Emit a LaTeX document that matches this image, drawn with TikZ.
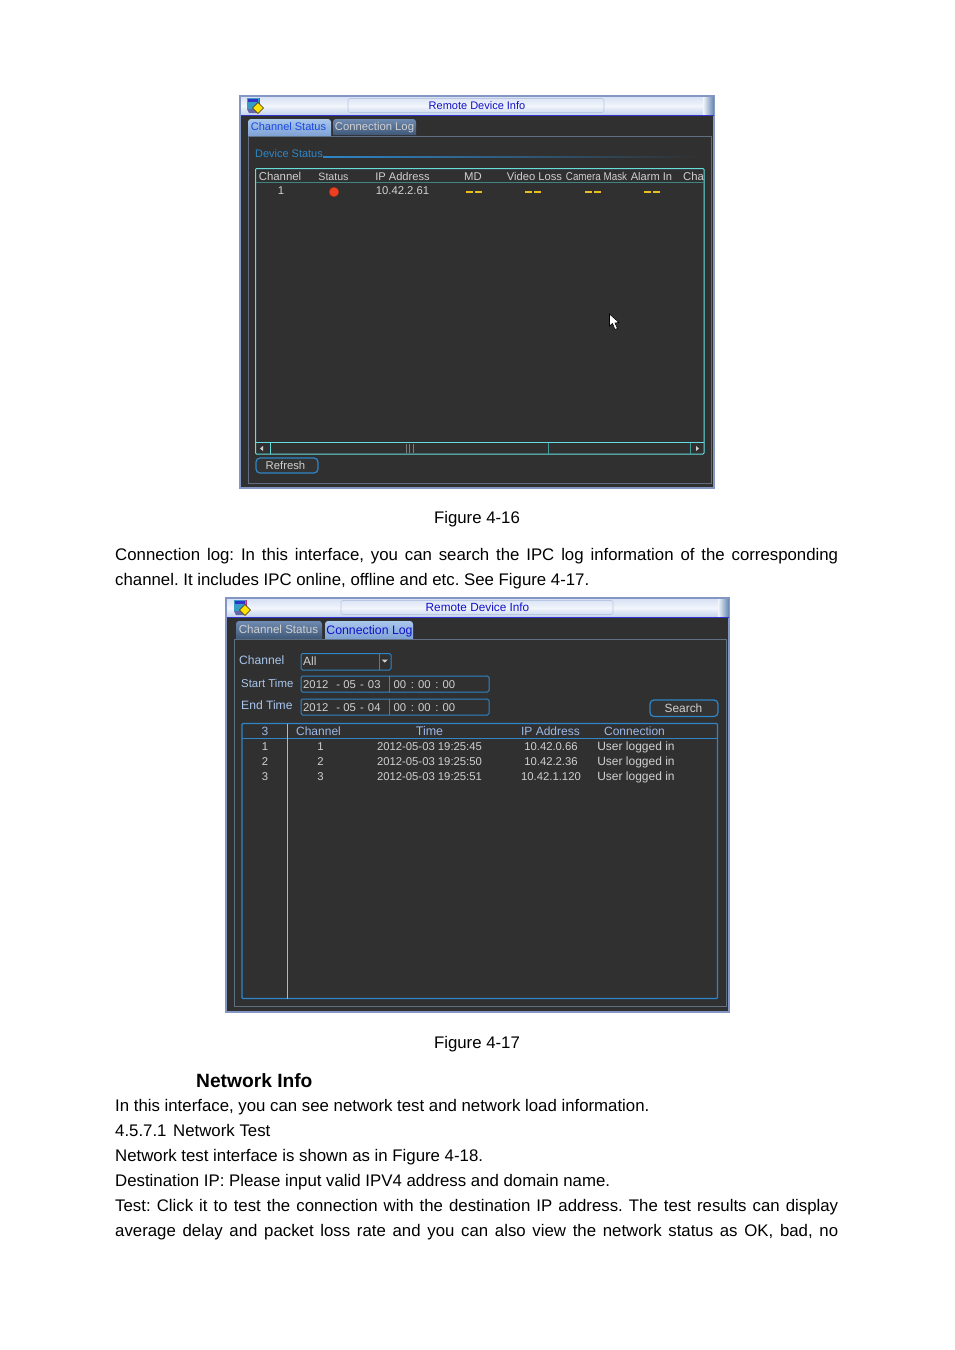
\documentclass[tikz,border=0pt]{standalone}
\usepackage{fontspec}
\usepackage{graphicx}
\setmainfont{Liberation Sans}
\frenchspacing
\usetikzlibrary{positioning}
\definecolor{screenbg}{HTML}{303030}
\definecolor{winframe}{HTML}{8497C4}
\definecolor{barlight}{HTML}{F2F5FB}
\definecolor{bartop}{HTML}{D8E2F4}
\definecolor{barmid}{HTML}{C2D2EC}
\definecolor{barend}{HTML}{5F84AE}
\definecolor{capline}{HTML}{B8C8E2}
\definecolor{tabontop}{HTML}{A9C6EC}
\definecolor{tabonbot}{HTML}{7FA2D4}
\definecolor{tabofftop}{HTML}{6F8AB0}
\definecolor{taboffbot}{HTML}{3F5878}
\definecolor{panelline}{HTML}{5F6E80}
\definecolor{tealline}{HTML}{66DDDD}
\definecolor{blueline}{HTML}{2E86C8}
\definecolor{headtxt}{HTML}{9DB9E8}
\definecolor{celltxt}{HTML}{D0D0D0}
\definecolor{labeltxt}{HTML}{A9C6EE}
\definecolor{titletxt}{HTML}{1010C8}
\definecolor{tabtxt}{HTML}{1848E0}
\definecolor{dashyellow}{HTML}{E8C020}
\definecolor{ledred}{HTML}{EE4020}
\tikzset{
  bodyline/.style={anchor=base west, inner sep=0pt, font=\fontsize{16.8}{20}\selectfont},
  caption/.style={anchor=base, inner sep=0pt, font=\fontsize{16.8}{20}\selectfont},
  heading/.style={anchor=base west, inner sep=0pt, font=\fontsize{19.2}{22}\selectfont\bfseries},
  cell/.style={anchor=base, inner sep=0pt, text=celltxt, font=\fontsize{11.3}{13}\selectfont},
  uihead/.style={cell, text=headtxt, font=\fontsize{12}{14}\selectfont},
  uitext/.style={cell},
  userin/.style={cell, font=\fontsize{12}{14}\selectfont},
  uilabel/.style={cell, anchor=base west, text=labeltxt, font=\fontsize{12.1}{14}\selectfont},
  titletext/.style={cell, text=titletxt},
  titlecap/.style={draw=capline, line width=0.6pt, rounded corners=1.5pt},
  tabactive/.style={top color=tabontop, bottom color=tabonbot},
  tabidle/.style={top color=tabofftop, bottom color=taboffbot},
  inputbox/.style={draw=blueline, line width=1pt, rounded corners=1.5pt},
  pushbutton/.style={draw=blueline, line width=1.2pt, rounded corners=4pt, fill=black!80},
  dashmark/.style={dashyellow, line width=2.3pt},
}
\newcommand{\dashpair}[2]{% yellow "- -" in a cell
  \draw[dashmark] (#1-8,#2) -- (#1-1,#2) (#1+1,#2) -- (#1+8,#2);}
\newcommand{\titlebar}[3]{% gradient bar, left x, right x, top y
  \shade[top color=bartop, bottom color=barmid, middle color=barlight] (#1,#3) rectangle (#2,#3+18);
  \shade[left color=barlight, right color=barend] (#2-11,#3) rectangle (#2,#3+18);
  \draw[blue!60!gray, line width=1pt] (#1,#3+18.5) -- (#2,#3+18.5);}
\newcommand{\winicon}[2]{% small window icon of the title bar
  \fill[black!55!blue!60] (#1,#2+11) -- (#1+12,#2+11) -- (#1+11,#2+15) -- (#1+2,#2+15) -- cycle;
  \fill[blue!30!cyan!55!gray] (#1,#2) rectangle ++(12,11);
  \fill[blue!60!gray] (#1+1,#2+1) rectangle ++(10,3);
  \fill[magenta!70!black] (#1+12,#2) rectangle ++(1,8);
  \fill[yellow!85!orange, draw=black!70!brown, line width=0.6pt]
    (#1+11,#2+4.5) -- ++(5.5,5.5) -- ++(-5.5,5.5) -- ++(-5.5,-5.5) -- cycle;}
\begin{document}
\begin{tikzpicture}[x=1pt,y=-1pt]
  \useasboundingbox (0,0) rectangle (954,1350);
  \fill[white] (0,0) rectangle (954,1350);

  % first screen
  \fill[screenbg] (240,96) rectangle (714,488);
  \draw[winframe, line width=1.4pt] (240,96) rectangle (714,488);
  \titlebar{241}{714}{97}
  \draw[titlecap] (348,98.5) rectangle (604,112.5);
  \winicon{247}{98}
  \node[titletext, font=\fontsize{11}{13}\selectfont] (title1) at (477,109) {Remote Device Info};
  \draw[panelline, line width=1pt] (248,136) rectangle (711,483);
  \path[tabactive] (248,136) [rounded corners=3pt] -- (248,119) -- (331,119) [sharp corners] -- (331,136) -- cycle;
  \path[tabidle] (333,135) [rounded corners=3pt] -- (333,119) -- (416,119) [sharp corners] -- (416,135) -- cycle;
  \node[cell, text=tabtxt, font=\fontsize{11}{13}\selectfont] (tab1a) at (288.5,130) {Channel Status};
  \node[cell] (tab1b) at (374.5,130) {Connection Log};
  \node[anchor=base west, inner sep=0pt, text=blueline, font=\fontsize{10.95}{13}\selectfont] (devstatus) at (255,157) {Device Status};
  \shade[left color=blueline, right color=screenbg] (323,156) rectangle (699,157.5);

  \draw[tealline, line width=1pt, rounded corners=1pt] (255.5,168.5) rectangle (704,454);
  \draw[tealline!60!black, line width=0.6pt] (256,182.5) -- (704,182.5);
  \node[cell, font=\fontsize{11.4}{13}\selectfont] (hchannel) at (280,180) {Channel};
  \node[cell, font=\fontsize{10.6}{13}\selectfont] (hstatus) at (333.5,180) {Status};
  \node[cell, font=\fontsize{11.1}{13}\selectfont] (hip) at (402.5,180) {IP Address};
  \node[cell] (hmd) at (473,180) {MD};
  \node[cell, font=\fontsize{11.2}{13}\selectfont] (hvideo) at (534.5,180) {Video Loss};
  \node[cell] (hcamera) at (596.5,180) {\scalebox{0.87}[1]{Camera Mask}};
  \node[cell, font=\fontsize{11.1}{13}\selectfont] (halarm) at (651.5,180) {Alarm In};
  \node[cell] (hcha) at (693.5,180) {Cha};
  \node[uitext] (c1) at (281,194) {1};
  \fill[ledred, draw=ledred!70!black, line width=0.4pt] (334,192) circle (4.8);
  \node[uitext] (ip1) at (402.5,194) {10.42.2.61};
  \dashpair{474}{192}
  \dashpair{533}{192}
  \dashpair{593}{192}
  \dashpair{652}{192}

  % cursor
  \fill[white, draw=black, line width=0.6pt] (609.5,314) -- (609.5,326) -- (612.5,323.5) -- (615,329.5) -- (617.5,328.5) -- (615,323) -- (619,322.5) -- cycle;

  % scrollbar
  \draw[tealline, line width=1pt] (256,442.5) -- (704,442.5);
  \draw[tealline, line width=1pt] (270.5,442.5) -- (270.5,454);
  \draw[tealline!70!black, line width=0.7pt] (548.5,442.5) -- (548.5,454) (690.5,442.5) -- (690.5,454);
  \draw[celltxt!60!black, line width=0.5pt] (406.5,444) -- (406.5,453) (409.5,444) -- (409.5,453) (413,444) -- (413,453);
  \fill[celltxt] (263,446) -- (260,448.5) -- (263,451) -- cycle;
  \fill[celltxt] (696,446) -- (699,448.5) -- (696,451) -- cycle;
  \draw[pushbutton] (256,458) rectangle (318,473);
  \node[uitext] (refresh) at (285.5,469) {Refresh};

  % texts between the screens
  \node[caption] (fig16) at (477,523) {Figure 4-16};
  \node[bodyline] (l1) at (115,560) {\makebox[723pt][s]{Connection log: In this interface, you can search the IPC log information of the corresponding}};
  \node[bodyline] (l2) at (115,585) {channel. It includes IPC online, offline and etc. See Figure 4-17.};

  % second screen
  \fill[screenbg] (226,598) rectangle (729,1012);
  \draw[winframe, line width=1.4pt] (226,598) rectangle (729,1012);
  \titlebar{227}{729}{599}
  \draw[titlecap] (341,600.5) rectangle (613,614.5);
  \winicon{234}{600}
  \node[titletext, font=\fontsize{11.8}{14}\selectfont] (title2) at (477.5,611) {Remote Device Info};
  \draw[panelline, line width=1pt] (234.5,639.5) rectangle (726,1006);
  \path[tabidle] (236,639) [rounded corners=3pt] -- (236,621) -- (322,621) [sharp corners] -- (322,639) -- cycle;
  \path[tabactive] (325,639) [rounded corners=3pt] -- (325,621) -- (413,621) [sharp corners] -- (413,639) -- cycle;
  \node[cell, font=\fontsize{11.6}{13}\selectfont] (tab2a) at (278.5,633) {Channel Status};
  \node[cell, text=titletxt, font=\fontsize{12.3}{14}\selectfont] (tab2b) at (369.5,634) {Connection Log};

  \node[uilabel] (lchannel) at (239,664) {Channel};
  \node[uilabel, font=\fontsize{11.4}{14}\selectfont] (lstart) at (241,687) {Start Time};
  \node[uilabel] (lend) at (241,709.5) {End Time};

  \draw[inputbox] (301,653.5) rectangle (391,670);
  \draw[blueline, line width=0.7pt] (379.5,654) -- (379.5,670);
  \fill[celltxt] (381.5,659.5) -- (388,659.5) -- (384.75,662.5) -- cycle;
  \node[userin, anchor=base west] (allopt) at (303,665.5) {All};

  \draw[inputbox] (301,676) rectangle (489,692);
  \draw[blueline, line width=0.7pt] (389.5,676) -- (389.5,692);
  \node[uitext, anchor=base west] (startdate) at (303,688) {2012\hspace{5pt} - 05\hspace{1pt} - \hspace{1pt}03};
  \node[uitext, anchor=base west] (starttime) at (393.5,688) {00\hspace{1.5pt} :\hspace{1pt} 00\hspace{1.5pt} :\hspace{1pt} 00};
  \draw[inputbox] (301,699) rectangle (489,715);
  \draw[blueline, line width=0.7pt] (389.5,699) -- (389.5,715);
  \node[uitext, anchor=base west] (enddate) at (303,711) {2012\hspace{5pt} - 05\hspace{1pt} - \hspace{1pt}04};
  \node[uitext, anchor=base west] (endtime) at (393.5,711) {00\hspace{1.5pt} :\hspace{1pt} 00\hspace{1.5pt} :\hspace{1pt} 00};

  \draw[pushbutton] (650,700) rectangle (718,716.5);
  \node[userin, font=\fontsize{11.9}{13}\selectfont] (search) at (683.5,712) {Search};

  \draw[blueline, line width=1.2pt, rounded corners=1pt] (242,723.5) rectangle (717.5,998.5);
  \draw[blueline, line width=0.8pt] (242,738.5) -- (717.5,738.5);
  \draw[headtxt, line width=0.8pt] (287.5,723.5) -- (287.5,998.5);

  \node[uihead] (hcount) at (265,735) {3};
  \node[uihead] (hchan) at (318.5,735) {Channel};
  \node[uihead, font=\fontsize{12.5}{14}\selectfont] (htime) at (429.5,735) {Time};
  \node[uihead] (hipaddr) at (550.5,735) {IP Address};
  \node[uihead] (hconn) at (634.5,735) {Connection};
  \foreach \row/\base/\tm/\addr in {1/750/19:25:45/10.42.0.66, 2/765/19:25:50/10.42.2.36, 3/780/19:25:51/10.42.1.120}{
    \node[uitext] (n\row) at (265,\base) {\row};
    \node[uitext] (ch\row) at (320.5,\base) {\row};
    \node[uitext] (tm\row) at (429.5,\base) {2012-05-03 \tm};
    \node[uitext] (ad\row) at (551,\base) {\addr};
    \node[userin] (us\row) at (636,\base) {User logged in};
  }

  % texts below the second screen
  \node[caption] (fig17) at (477,1048) {Figure 4-17};
  \node[heading] (netinfo) at (196,1087) {Network Info};
  \node[bodyline] (l3) at (115,1111) {In this interface, you can see network test and network load information.};
  \node[bodyline] (l4) at (115,1136) {4.5.7.1\hspace{2pt} Network Test};
  \node[bodyline] (l5) at (115,1161) {Network test interface is shown as in Figure 4-18.};
  \node[bodyline] (l6) at (115,1186) {Destination IP: Please input valid IPV4 address and domain name.};
  \node[bodyline] (l7) at (115,1211) {\makebox[723pt][s]{Test: Click it to test the connection with the destination IP address. The test results can display}};
  \node[bodyline] (l8) at (115,1236) {\makebox[723pt][s]{average delay and packet loss rate and you can also view the network status as OK, bad, no}};
\end{tikzpicture}
\end{document}
